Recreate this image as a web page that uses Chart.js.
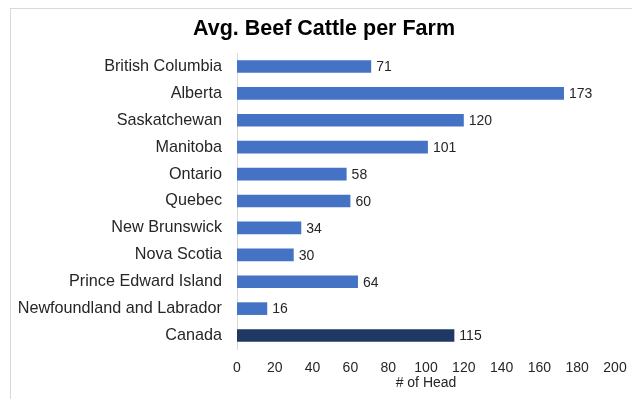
<!DOCTYPE html>
<html>
<head>
<meta charset="utf-8">
<script src="https://cdn.jsdelivr.net/npm/chart.js@4"></script>
<style>
    html, body { margin: 0; padding: 0; background: #fff; overflow: hidden; }
    #wrap { width: 632px; height: 399px; }
</style>
</head>
<body>
<div id="wrap"><canvas id="beefChart" width="632" height="399"></canvas></div>
<script>
const chartTitle = "Avg. Beef Cattle per Farm";
const provinces = [
    "British Columbia", "Alberta", "Saskatchewan", "Manitoba", "Ontario", "Quebec",
    "New Brunswick", "Nova Scotia", "Prince Edward Island", "Newfoundland and Labrador", "Canada"
];
const headPerFarm = [71, 173, 120, 101, 58, 60, 34, 30, 64, 16, 115];
const xTicks = [0, 20, 40, 60, 80, 100, 120, 140, 160, 180, 200];
const xTitle = "# of Head";

const FONT = "'Liberation Sans', Arial, sans-serif";
const TEXT = "#262626";

// Canada total gets the dark bar
const barColors = provinces.map(p => p === "Canada" ? "#203864" : "#4472C4");

// frame + title, the chart box runs off the right/bottom edge
const frameAndTitle = {
    id: "frameAndTitle",
    beforeDraw(chart) {
        const c = chart.ctx;
        c.save();
        c.strokeStyle = "#d9d9d9";
        c.lineWidth = 1;
        c.strokeRect(10.5, 8.5, 700, 500);
        c.restore();
    },
    afterDraw(chart) {
        const c = chart.ctx;
        c.save();
        c.font = "bold 21.5px " + FONT;
        c.fillStyle = "#000";
        c.textAlign = "center";
        c.textBaseline = "middle";
        c.fillText(chartTitle, 324, 29);
        c.restore();
    }
};

// value labels at the end of each bar
const valueLabels = {
    id: "valueLabels",
    afterDatasetsDraw(chart) {
        const c = chart.ctx;
        const meta = chart.getDatasetMeta(0);
        c.save();
        c.font = "14px " + FONT;
        c.fillStyle = TEXT;
        c.textAlign = "left";
        c.textBaseline = "middle";
        meta.data.forEach((bar, i) => {
            c.fillText(String(headPerFarm[i]), bar.x + 5, bar.y + 1);
        });
        c.restore();
    }
};

const ctx = document.getElementById("beefChart").getContext("2d");

new Chart(ctx, {
    type: "bar",
    data: {
        labels: provinces,
        datasets: [{
            data: headPerFarm,
            backgroundColor: barColors,
            categoryPercentage: 1,
            barPercentage: 0.47
        }]
    },
    options: {
        indexAxis: "y",
        responsive: false,
        animation: false,
        layout: { padding: { left: 0, right: 17, top: 53, bottom: 0 } },
        plugins: {
            legend: { display: false },
            tooltip: { enabled: false },
            title: { display: false }
        },
        scales: {
            x: {
                min: 0,
                max: 200,
                afterBuildTicks: axis => { axis.ticks = xTicks.map(v => ({ value: v })); },
                afterFit: axis => {
                    axis.height = 50;
                    axis.paddingLeft = 0;
                    axis.paddingRight = 0;
                },
                grid: { display: false, drawTicks: false },
                border: { display: false },
                ticks: { padding: 11, color: TEXT, font: { family: FONT, size: 14 } },
                title: {
                    display: true,
                    text: xTitle,
                    color: TEXT,
                    font: { family: FONT, size: 14 },
                    padding: { top: 2, bottom: 7 }
                }
            },
            y: {
                afterFit: axis => { axis.width = 237; },
                grid: { display: false, drawTicks: false },
                border: { display: true, color: "#d9d9d9" },
                ticks: { padding: 15, color: TEXT, font: { family: FONT, size: 16.2 } }
            }
        }
    },
    plugins: [frameAndTitle, valueLabels]
});
</script>
</body>
</html>
